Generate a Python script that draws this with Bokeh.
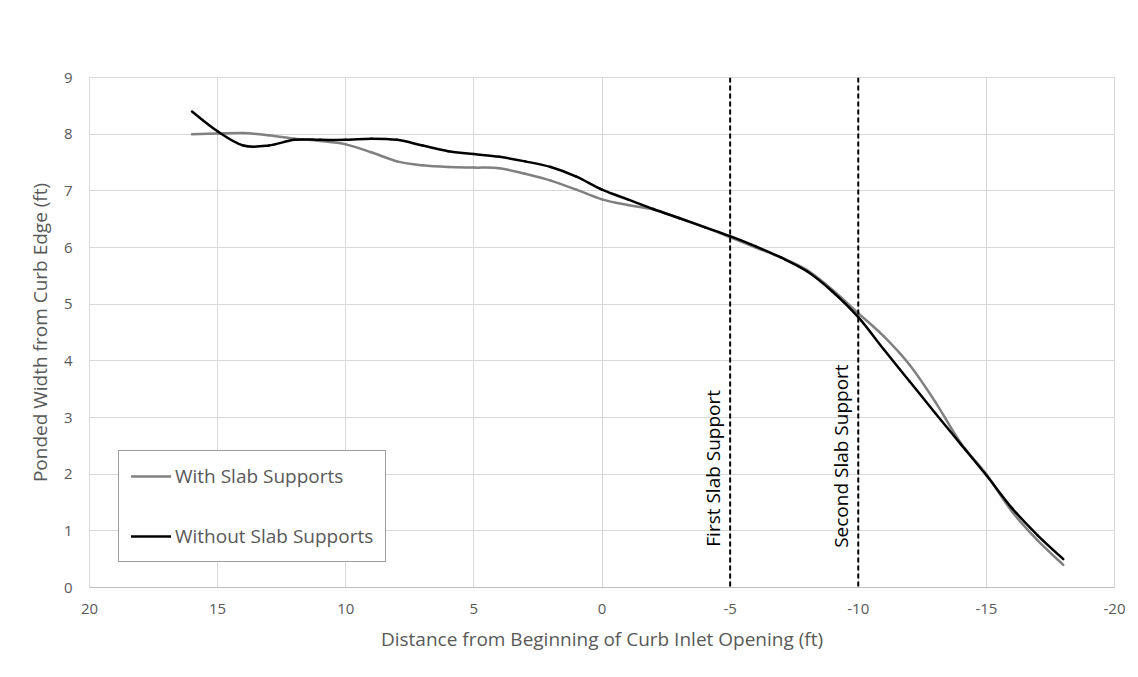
from bokeh.plotting import figure
from bokeh.models import Span, Legend, LegendItem, ColumnDataSource, FixedTicker, Range1d
from bokeh.core.properties import value
from bokeh.embed import file_html
from bokeh.resources import INLINE
import math

# distance from beginning of curb inlet opening (ft)
distance = [16, 15, 14, 13, 12, 11, 10, 9, 8, 7, 6, 5, 4, 3, 2, 1, 0,
            -1, -2, -3, -4, -5, -6, -7, -8, -9, -10, -11, -12, -13, -14, -15, -16, -17, -18]
with_supports = [8.00, 8.01, 8.02, 7.98, 7.92, 7.88, 7.82, 7.68, 7.52, 7.45, 7.42, 7.41, 7.40, 7.30, 7.18, 7.02, 6.85,
                 6.75, 6.67, 6.52, 6.36, 6.18, 6.00, 5.82, 5.60, 5.25, 4.84, 4.43, 3.93, 3.28, 2.55, 2.00, 1.34, 0.83, 0.40]
without_supports = [8.40, 8.05, 7.80, 7.80, 7.90, 7.90, 7.90, 7.92, 7.90, 7.80, 7.70, 7.65, 7.60, 7.52, 7.42, 7.25, 7.02,
                    6.85, 6.68, 6.52, 6.36, 6.20, 6.02, 5.82, 5.58, 5.22, 4.77, 4.20, 3.64, 3.08, 2.53, 1.98, 1.40, 0.92, 0.50]

support_positions = [-5, -10]
support_labels = ["First Slab Support", "Second Slab Support"]
support_label_y = [0.72, 0.70]

x_ticks = [20, 15, 10, 5, 0, -5, -10, -15, -20]
y_ticks = [0, 1, 2, 3, 4, 5, 6, 7, 8, 9]

FONT = "Open Sans"
GRID = "#d9d9d9"
TXT = "#595959"


def smooth_source(xs, ys):
    """Smoothed-line rendering (Catmull-Rom as cubic Bezier) between the data points."""
    n = len(xs)
    d = dict(x0=[], y0=[], x1=[], y1=[], cx0=[], cy0=[], cx1=[], cy1=[])
    for i in range(n - 1):
        xp, yp = (xs[i - 1], ys[i - 1]) if i > 0 else (xs[i], ys[i])
        xn, yn = (xs[i + 2], ys[i + 2]) if i + 2 < n else (xs[i + 1], ys[i + 1])
        d["x0"].append(xs[i]); d["y0"].append(ys[i])
        d["x1"].append(xs[i + 1]); d["y1"].append(ys[i + 1])
        d["cx0"].append(xs[i] + (xs[i + 1] - xp) / 6); d["cy0"].append(ys[i] + (ys[i + 1] - yp) / 6)
        d["cx1"].append(xs[i + 1] - (xn - xs[i]) / 6); d["cy1"].append(ys[i + 1] - (yn - ys[i]) / 6)
    return ColumnDataSource(d)


p = figure(width=1130, height=669, output_backend="svg", toolbar_location=None,
           x_range=Range1d(20, -20), y_range=Range1d(0, 9),
           min_border_left=89, min_border_right=16, min_border_top=77, min_border_bottom=82)

p.outline_line_color = GRID
p.background_fill_color = "white"
p.border_fill_color = "white"

p.xgrid.ticker = FixedTicker(ticks=x_ticks)
p.ygrid.ticker = FixedTicker(ticks=y_ticks)
p.xgrid.grid_line_color = GRID
p.ygrid.grid_line_color = GRID

for ax in (p.xaxis[0], p.yaxis[0]):
    ax.major_tick_line_color = None
    ax.minor_tick_line_color = None
    ax.major_tick_out = 0
    ax.major_tick_in = 0
    ax.minor_tick_out = 0
    ax.minor_tick_in = 0
    ax.major_label_text_font = FONT
    ax.major_label_text_font_size = "15px"
    ax.major_label_text_color = TXT
    ax.axis_label_text_font = FONT
    ax.axis_label_text_font_size = "19px"
    ax.axis_label_text_color = TXT
    ax.axis_label_text_font_style = "normal"

p.xaxis.ticker = FixedTicker(ticks=x_ticks)
p.xaxis.major_label_overrides = {t: str(t) for t in x_ticks}
p.yaxis.ticker = FixedTicker(ticks=y_ticks)
p.xaxis.axis_line_color = "#bfbfbf"
p.yaxis.axis_line_color = None
p.xaxis.axis_label = "Distance from Beginning of Curb Inlet Opening (ft)"
p.yaxis.axis_label = "Ponded Width from Curb Edge (ft)"
p.xaxis.major_label_standoff = 16
p.yaxis.major_label_standoff = 17
p.xaxis.axis_label_standoff = 9
p.yaxis.axis_label_standoff = 8

r_with = p.bezier("x0", "y0", "x1", "y1", "cx0", "cy0", "cx1", "cy1",
                  source=smooth_source(distance, with_supports),
                  line_color="#808080", line_width=2.5, line_cap="round")
r_without = p.bezier("x0", "y0", "x1", "y1", "cx0", "cy0", "cx1", "cy1",
                     source=smooth_source(distance, without_supports),
                     line_color="#000000", line_width=2.5, line_cap="round")

for loc in support_positions:
    p.add_layout(Span(location=loc, dimension="height", line_color="black",
                      line_width=2, line_dash="5 3"))

lbl = ColumnDataSource(dict(x=support_positions, y=support_label_y, t=support_labels))
p.text("x", "y", text="t", source=lbl, angle=math.pi / 2, x_offset=-4,
       text_align="left", text_baseline="bottom", text_color="black",
       text_font=value(FONT), text_font_size="19px")

legend = Legend(items=[LegendItem(label="With Slab Supports", renderers=[r_with]),
                       LegendItem(label="Without Slab Supports", renderers=[r_without])],
                location=(29, 25))
legend.label_text_font = FONT
legend.label_text_font_size = "19px"
legend.label_text_color = TXT
legend.glyph_width = 40
legend.glyph_height = 20
legend.label_height = 20
legend.spacing = 34
legend.padding = 12
legend.margin = 0
legend.label_standoff = 4
legend.border_line_color = "#404040"
legend.border_line_width = 1
legend.background_fill_alpha = 1
p.add_layout(legend)

open("out.html", "w").write(file_html(p, INLINE))
